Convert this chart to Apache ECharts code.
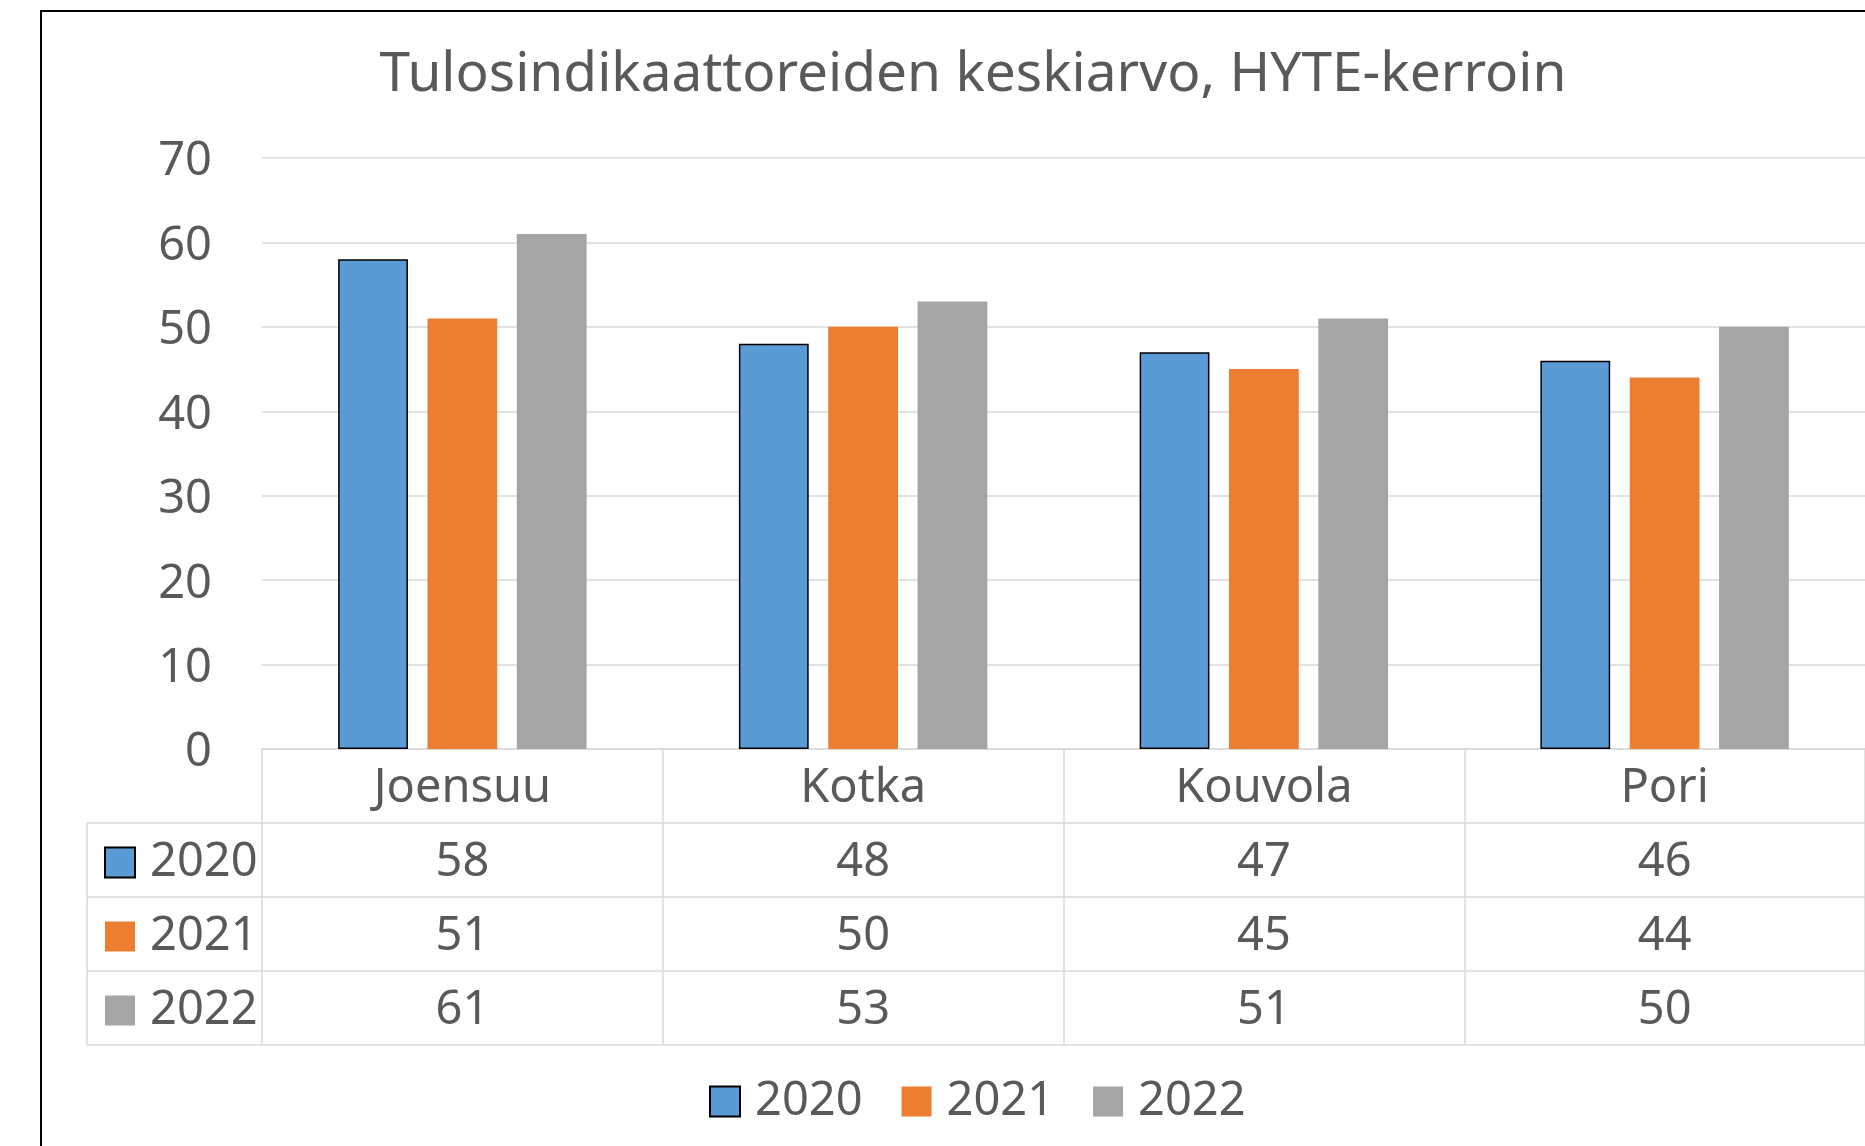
<!DOCTYPE html>
<html>
<head>
<meta charset="utf-8">
<script src="https://cdn.jsdelivr.net/npm/echarts@6/dist/echarts.min.js"></script>
<style>
  html, body { margin: 0; padding: 0; background: #fff; }
  #chart { width: 1865px; height: 1146px; }
</style>
</head>
<body>
<div id="chart"></div>
<script>
// Data
const categories = ['Joensuu', 'Kotka', 'Kouvola', 'Pori'];
const years = ['2020', '2021', '2022'];
const values2020 = [58, 48, 47, 46];
const values2021 = [51, 50, 45, 44];
const values2022 = [61, 53, 51, 50];
const yTicks = { min: 0, max: 70, interval: 10 };

// Layout
const FONT = '"Noto Sans", "Open Sans", sans-serif';
const TEXT = '#595959';
const LINE = '#D9D9D9';
const colors = ['#5B9BD5', '#ED7D31', '#A5A5A5'];
const gridLeft = 262, gridTop = 158, axisY = 749, rowH = 74;
const tableLeft = 87;
const rows = [values2020, values2021, values2022];

const chart = echarts.init(document.getElementById('chart'), null, { renderer: 'canvas' });

// One extra x axis per table row: its axis line is the row's top border,
// its labels are the row's values.
const rowAxes = rows.map((vals, r) => ({
  type: 'category',
  data: categories,
  gridIndex: 0,
  position: 'bottom',
  offset: rowH * (r + 1),
  axisLine: { show: true, lineStyle: { color: LINE, width: 1.5 } },
  axisTick: { show: false },
  splitLine: { show: false },
  axisLabel: {
    show: true,
    margin: rowH / 2 + 3,
    verticalAlign: 'middle',
    fontSize: 47,
    fontFamily: FONT,
    color: TEXT,
    formatter: (v, i) => String(vals[i])
  }
}));

const bottomAxis = {
  type: 'category',
  data: categories,
  gridIndex: 0,
  position: 'bottom',
  offset: rowH * 4,
  axisLine: { show: true, lineStyle: { color: LINE, width: 1.5 } },
  axisTick: { show: false },
  axisLabel: { show: false }
};

const series = years.map((y, i) => ({
  name: y,
  type: 'bar',
  xAxisIndex: 0,
  yAxisIndex: 0,
  data: rows[i],
  barGap: '28%',
  barCategoryGap: '38%',
  itemStyle: i === 0
    ? { color: colors[i], borderColor: '#000', borderWidth: 1.5 }
    : { color: colors[i] }
}));

// Left column of the data table (frame next to the row keys)
const tableBottom = axisY + rowH * 4;
const leftFrame = [];
for (let r = 1; r <= 4; r++) {
  leftFrame.push({
    type: 'line',
    shape: { x1: tableLeft, y1: axisY + rowH * r, x2: gridLeft, y2: axisY + rowH * r },
    style: { stroke: LINE, lineWidth: 1.5 },
    silent: true
  });
}
leftFrame.push({
  type: 'line',
  shape: { x1: tableLeft, y1: axisY + rowH, x2: tableLeft, y2: tableBottom },
  style: { stroke: LINE, lineWidth: 1.5 },
  silent: true
});

const legendText = { fontSize: 47, fontFamily: FONT, color: TEXT, padding: [0, 0, 0, 10] };

const option = {
  animation: false,
  backgroundColor: '#fff',
  color: colors,
  title: {
    text: 'Tulosindikaattoreiden keskiarvo, HYTE-kerroin',
    left: 968,
    textAlign: 'center',
    top: 43,
    textStyle: { fontSize: 55, fontWeight: 'normal', fontFamily: FONT, color: TEXT }
  },
  legend: [
    {
      // keys inside the data table
      orient: 'vertical',
      left: 99,
      top: 834,
      itemWidth: 30,
      itemHeight: 30,
      itemGap: 27,
      icon: 'rect',
      selectedMode: false,
      data: years,
      textStyle: legendText
    },
    {
      // legend under the table
      orient: 'horizontal',
      left: 704,
      top: 1073,
      itemWidth: 30,
      itemHeight: 30,
      itemGap: 39,
      icon: 'rect',
      selectedMode: false,
      data: years,
      textStyle: legendText
    }
  ],
  grid: {
    left: gridLeft,
    top: gridTop,
    width: 1865 - gridLeft + 1,
    height: axisY - gridTop,
    containLabel: false
  },
  xAxis: [
    {
      type: 'category',
      data: categories,
      gridIndex: 0,
      position: 'bottom',
      axisLine: { show: true, lineStyle: { color: LINE, width: 1.5 } },
      // category boundary ticks double as the table's vertical cell borders
      axisTick: { show: true, alignWithLabel: false, inside: false, length: rowH * 4, lineStyle: { color: LINE, width: 1.5 } },
      axisLabel: {
        margin: rowH / 2 + 3,
        verticalAlign: 'middle',
        fontSize: 47,
        fontFamily: FONT,
        color: TEXT,
        interval: 0
      }
    },
    ...rowAxes,
    bottomAxis
  ],
  yAxis: {
    type: 'value',
    min: yTicks.min,
    max: yTicks.max,
    interval: yTicks.interval,
    axisLine: { show: false },
    axisTick: { show: false },
    splitLine: { show: true, lineStyle: { color: LINE, width: 1.5 } },
    axisLabel: {
      margin: 50,
      fontSize: 47,
      fontFamily: FONT,
      color: TEXT,
      formatter: (v) => '{n|' + v + '}',
      rich: { n: { fontSize: 47, fontFamily: FONT, color: TEXT, padding: [8, 0, 0, 0] } }
    }
  },
  series: series,
  graphic: [
    {
      type: 'rect',
      shape: { x: 41, y: 11, width: 3000, height: 3000 },
      style: { fill: 'none', stroke: '#000', lineWidth: 2 },
      silent: true,
      z: -1
    },
    ...leftFrame
  ]
};

chart.setOption(option);
</script>
</body>
</html>
